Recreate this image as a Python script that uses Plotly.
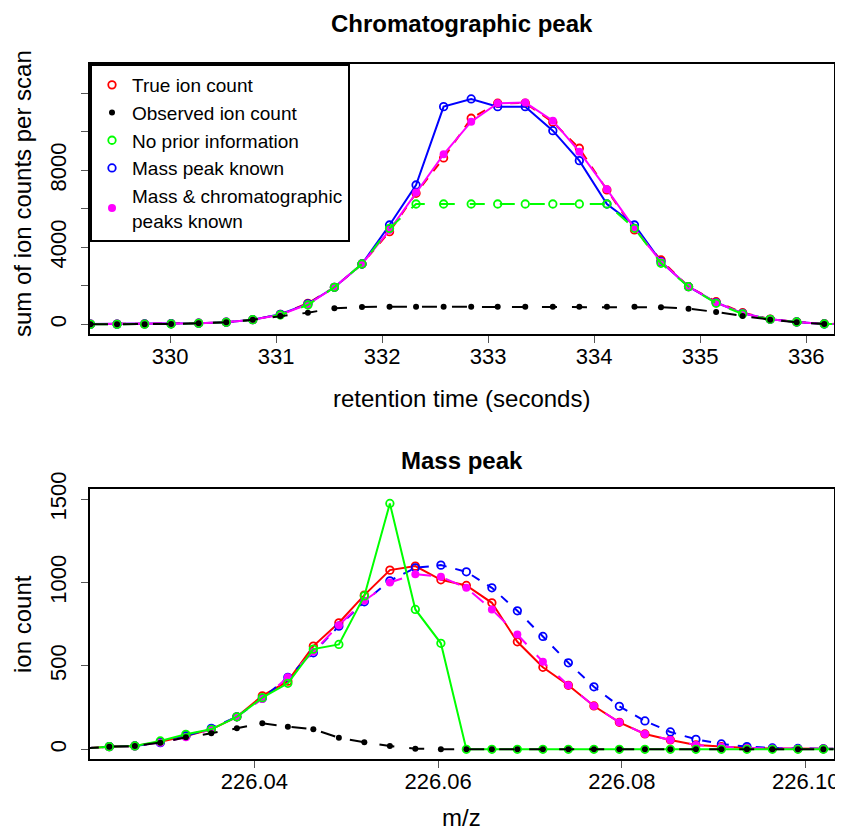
import plotly.graph_objects as go

# ---------------- Top panel: chromatographic peak ----------------
rt = [328.99, 329.25, 329.50, 329.76, 330.01, 330.27, 330.53, 330.78, 331.04, 331.30,
      331.55, 331.81, 332.07, 332.32, 332.58, 332.84, 333.09, 333.35, 333.61, 333.86,
      334.12, 334.38, 334.63, 334.89, 335.15, 335.40, 335.66, 335.91, 336.17, 336.43]

chrom_true = [2, 5, 10, 18, 28, 55, 105, 240, 519, 1091, 1922, 3132, 4810, 6805, 8640,
              10701, 11481, 11490, 10494, 9143, 6977, 4899, 3340, 1953, 1174, 603, 270, 125, 30, 10]
chrom_obs = [0, 0, 0, 5, 15, 52, 104, 239, 431, 603, 831, 899, 914, 914, 914,
             914, 914, 914, 914, 914, 914, 914, 883, 810, 639, 431, 239, 104, 16, 5]
chrom_noprior = [0, 0, 0, 5, 15, 52, 104, 239, 483, 1003, 1922, 3132, 4983, 6249, 6249,
                 6249, 6249, 6249, 6249, 6249, 6249, 4986, 3169, 1953, 1091, 535, 260, 119, 16, 5]
chrom_masskn = [2, 5, 10, 18, 28, 55, 105, 240, 519, 1060, 1922, 3132, 5156, 7236, 11304,
                11704, 11304, 11304, 10057, 8499, 6249, 5158, 3250, 1953, 1130, 570, 260, 119, 16, 5]
chrom_both = [2, 5, 10, 18, 28, 55, 105, 240, 500, 1040, 1922, 3132, 4896, 6840, 8831,
              10525, 11481, 11516, 10577, 8966, 7011, 4986, 3250, 1960, 1130, 570, 260, 119, 16, 5]

rt_ticks = [330, 331, 332, 333, 334, 335, 336]
chrom_yticks = [0, 2000, 4000, 6000, 8000, 10000, 12000]
chrom_yticklabels = ["0", "", "4000", "", "8000", "", ""]

# ---------------- Bottom panel: mass peak ----------------
mz = [226.02145, 226.02422, 226.02700, 226.02977, 226.03255, 226.03532, 226.03810, 226.04087,
      226.04365, 226.04642, 226.04920, 226.05197, 226.05475, 226.05752, 226.06030, 226.06307,
      226.06585, 226.06862, 226.07140, 226.07417, 226.07695, 226.07972, 226.08250, 226.08527,
      226.08805, 226.09082, 226.09360, 226.09637, 226.09915, 226.10192, 226.10470]

mass_true = [5, 16, 20, 45, 80, 120, 195, 321, 409, 619, 759, 925, 1075, 1099, 1017, 983,
             879, 645, 492, 384, 260, 162, 92, 56, 26, 16, 8, 5, 3, 3, 2]
mass_obs = [5, 16, 20, 40, 72, 96, 126, 156, 136, 120, 70, 42, 20, 4, 0, 0,
            0, 0, 0, 0, 0, 0, 0, 0, 0, 0, 0, 0, 0, 0, 0]
mass_noprior = [5, 16, 20, 50, 90, 120, 195, 310, 396, 601, 629, 920, 1475, 839, 636, 0,
                0, 0, 0, 0, 0, 0, 0, 0, 0, 0, 0, 0, 0, 0, 0]
mass_masskn = [5, 16, 20, 40, 80, 126, 195, 306, 432, 579, 739, 885, 1011, 1089, 1105, 1065,
               969, 831, 677, 519, 375, 258, 170, 104, 60, 32, 16, 8, 5, 3, 2]
mass_both = [5, 16, 20, 40, 72, 120, 195, 302, 432, 585, 745, 891, 1001, 1051, 1035, 969,
             839, 689, 525, 384, 260, 162, 92, 56, 26, 16, 8, 5, 3, 3, 2]

mz_ticks = [226.04, 226.06, 226.08, 226.10]
mz_ticklabels = ["226.04", "226.06", "226.08", "226.10"]
mass_yticks = [0, 500, 1000, 1500]

legend_names = ["True ion count", "Observed ion count", "No prior information",
                "Mass peak known", "Mass & chromatographic<br>peaks known"]

RED, BLACK, GREEN, BLUE, MAG = "#FF0000", "#000000", "#00FF00", "#0000FF", "#FF00FF"
FONT = "Liberation Sans, Arial, sans-serif"

open_m = lambda c: dict(symbol="circle-open", size=7.5, color=c, line=dict(width=1.8, color=c))
dot_black = dict(symbol="circle", size=6, color=BLACK)
dot_mag = dict(symbol="circle", size=8, color=MAG)

fig = go.Figure()

# legend-only entries (markers only, as in the reference legend)
leg_markers = [open_m(RED), dot_black, open_m(GREEN), open_m(BLUE), dot_mag]
for name, mk in zip(legend_names, leg_markers):
    fig.add_trace(go.Scatter(x=[None], y=[None], mode="markers", name=name, marker=mk,
                             showlegend=True, xaxis="x", yaxis="y"))

def add(x, y, color, marker, dash, xa, ya):
    fig.add_trace(go.Scatter(x=x, y=y, mode="lines+markers", marker=marker,
                             line=dict(color=color, width=2, dash=dash),
                             showlegend=False, xaxis=xa, yaxis=ya, hoverinfo="skip"))

# top panel (drawing order: true, mass known, both, no prior, observed)
add(rt, chrom_true, RED, open_m(RED), "dash", "x", "y")
add(rt, chrom_masskn, BLUE, open_m(BLUE), "solid", "x", "y")
add(rt, chrom_both, MAG, dot_mag, "solid", "x", "y")
add(rt, chrom_noprior, GREEN, open_m(GREEN), "longdash", "x", "y")
add(rt, chrom_obs, BLACK, dot_black, "longdash", "x", "y")

# bottom panel
add(mz, mass_true, RED, open_m(RED), "solid", "x2", "y2")
add(mz, mass_masskn, BLUE, open_m(BLUE), "dash", "x2", "y2")
add(mz, mass_both, MAG, dot_mag, "longdash", "x2", "y2")
add(mz, mass_noprior, GREEN, open_m(GREEN), "solid", "x2", "y2")
add(mz, mass_obs, BLACK, dot_black, "longdash", "x2", "y2")

# page body has an 8px margin: figure is sized to fit the 843x832 window
OFF = 8
W, H = 843 - OFF, 832 - OFF
px = lambda x: (x - OFF) / W
py = lambda y: 1 - (y - OFF) / H

xl, xr = px(90), px(833.5)
top_dom = [py(334.3), py(64)]
bot_dom = [py(759.3), py(489.3)]

axis_common = dict(showline=True, linecolor="black", linewidth=2, mirror=True,
                   ticks="outside", ticklen=7, tickwidth=1, tickcolor="#555555",
                   showgrid=False, zeroline=False, automargin=False,
                   tickfont=dict(family=FONT, size=22, color="black"))

fig.update_layout(
    width=W, height=H,
    margin=dict(l=0, r=0, t=0, b=0, autoexpand=False),
    paper_bgcolor="white", plot_bgcolor="white",
    font=dict(family=FONT, color="black"),
    xaxis=dict(domain=[xl, xr], anchor="y", range=[329.245, 336.257],
               tickvals=rt_ticks, ticklabelstandoff=-6, **axis_common),
    yaxis=dict(domain=top_dom, anchor="x", range=[-520, 13520],
               tickvals=chrom_yticks, ticktext=chrom_yticklabels, tickangle=-90,
               ticklabelstandoff=6, **axis_common),
    xaxis2=dict(domain=[xl, xr], anchor="y2", range=[226.02212, 226.10302],
                tickvals=mz_ticks, ticktext=mz_ticklabels, ticklabelstandoff=-6, **axis_common),
    yaxis2=dict(domain=bot_dom, anchor="x2", range=[-60, 1560],
                tickvals=mass_yticks, tickangle=-90, ticklabelstandoff=6, **axis_common),
    legend=dict(x=xl, y=top_dom[1], xanchor="left", yanchor="top",
                bordercolor="black", borderwidth=2, bgcolor="white",
                font=dict(family=FONT, size=19, color="black"),
                tracegroupgap=0, itemclick=False),
    showlegend=True,
)

def ann(text, x, y, size, bold=False, angle=0):
    fig.add_annotation(text=f"<b>{text}</b>" if bold else text, x=px(x), y=py(y),
                       xref="paper", yref="paper", showarrow=False, textangle=angle,
                       font=dict(family=FONT, size=size, color="black"),
                       xanchor="center", yanchor="middle")

cx = (90 + 833.5) / 2
ann("Chromatographic peak", cx, 23, 24, bold=True)
ann("retention time (seconds)", cx, 398, 24)
ann("sum of ion counts per scan", 22, 194, 24, angle=-90)
ann("Mass peak", cx, 460, 24, bold=True)
ann("m/z", cx, 817, 24)
ann("ion count", 22, 624, 24, angle=-90)

fig.write_html("out.html")
